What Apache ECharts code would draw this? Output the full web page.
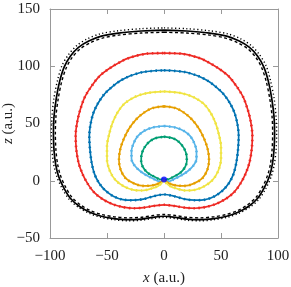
<!DOCTYPE html>
<html><head><meta charset="utf-8">
<script src="https://cdn.jsdelivr.net/npm/echarts@6/dist/echarts.min.js"></script>
<style>html,body{margin:0;padding:0;background:#fff}#c{width:291px;height:287px}</style>
</head><body><div id="c"></div>
<script>
const xTicks = [-100, -50, 0, 50, 100];
const zTicks = [-50, 0, 50, 100, 150];

const blackSolid = [[0,131.5],[20,130.8],[40,129],[55,126.3],[66,122],[75,116.5],[82,109],[87.5,99.5],[91.5,87],[94.5,72],[96.5,56],[97,41],[96.5,27],[95,14],[92.5,4],[88,-6],[82,-15.5],[74,-22.5],[65,-27.5],[55,-31],[44,-33],[32,-34],[20,-33.5],[10,-32],[0,-31],[-10,-32],[-20,-33.5],[-32,-34],[-44,-33],[-55,-31],[-65,-27.5],[-74,-22.5],[-82,-15.5],[-88,-6],[-92.5,4],[-95,14],[-96.5,27],[-97,41],[-96.5,56],[-94.5,72],[-91.5,87],[-87.5,99.5],[-82,109],[-75,116.5],[-66,122],[-55,126.3],[-40,129],[-20,130.8],[0,131.5]];
const blackOuter = [[0,133.5],[20,132.8],[40,131],[56,128.3],[67.5,123.8],[76.5,118],[83.5,110.5],[89.5,100.5],[93.3,88],[96.5,72.5],[98.3,56],[98.8,41],[98.3,27],[96.7,14],[94,3.5],[89.3,-6.8],[83,-16.5],[74.6,-23.5],[65.5,-28.5],[55.3,-32],[44,-34],[32,-35],[20,-34.5],[10,-33],[0,-32],[-10,-33],[-20,-34.5],[-32,-35],[-44,-34],[-55.3,-32],[-65.5,-28.5],[-74.6,-23.5],[-83,-16.5],[-89.3,-6.8],[-94,3.5],[-96.7,14],[-98.3,27],[-98.8,41],[-98.3,56],[-96.5,72.5],[-93.3,88],[-89.5,100.5],[-83.5,110.5],[-76.5,118],[-67.5,123.8],[-56,128.3],[-40,131],[-20,132.8],[0,133.5]];
const blackInner = [[0,129.7],[20,129],[40,127.2],[54,124.6],[64.6,120.5],[73.5,115.2],[80.5,107.8],[85.8,98.5],[89.8,86.3],[92.8,71.5],[94.8,56],[95.3,41],[94.8,27],[93.3,14.3],[90.8,4.5],[86.5,-5.2],[80.7,-14.5],[73,-21.2],[64.3,-26.2],[54.6,-29.5],[44,-31.4],[32,-32.4],[20,-31.9],[10,-30.4],[0,-29.5],[-10,-30.4],[-20,-31.9],[-32,-32.4],[-44,-31.4],[-54.6,-29.5],[-64.3,-26.2],[-73,-21.2],[-80.7,-14.5],[-86.5,-5.2],[-90.8,4.5],[-93.3,14.3],[-94.8,27],[-95.3,41],[-94.8,56],[-92.8,71.5],[-89.8,86.3],[-85.8,98.5],[-80.5,107.8],[-73.5,115.2],[-64.6,120.5],[-54,124.6],[-40,127.2],[-20,129],[0,129.7]];
const red = [[0,111.5],[15,111],[30,107.5],[38,104],[48,98],[57,91],[64,82],[69.5,73],[73.5,62],[76,52],[77.5,40],[77,28],[75,16],[71.5,6],[67,-2.5],[61.5,-10],[54,-16],[45,-20.5],[36,-23],[27,-24],[18,-23.5],[9,-22],[0,-21],[-9,-22],[-18,-23.5],[-27,-24],[-36,-23],[-45,-20.5],[-54,-16],[-61.5,-10],[-67,-2.5],[-71.5,6],[-75,16],[-77,28],[-77.5,40],[-76,52],[-73.5,62],[-69.5,73],[-64,82],[-57,91],[-48,98],[-38,104],[-30,107.5],[-15,111],[0,111.5]];
const blue = [[0,96.5],[18,95],[30,91.5],[38,87.5],[45,82.5],[52,76],[58,67.5],[62,59],[64.5,49],[65.5,39],[65,28],[63.5,16],[61,6],[57,-2],[51.5,-8.5],[44.5,-13.5],[36,-16.5],[27,-17],[18,-16],[9,-13.5],[0,-12],[-9,-13.5],[-18,-16],[-27,-17],[-36,-16.5],[-44.5,-13.5],[-51.5,-8.5],[-57,-2],[-61,6],[-63.5,16],[-65,28],[-65.5,39],[-64.5,49],[-62,59],[-58,67.5],[-52,76],[-45,82.5],[-38,87.5],[-30,91.5],[-18,95],[0,96.5]];
const yellow = [[0,78],[15,76.5],[26,73],[34.5,67.5],[40.5,60],[45,51],[48,41],[50,30],[50,19],[47.5,8.5],[42.5,0.5],[35,-5],[27,-8],[19,-8.5],[11,-6.8],[5,-4.5],[1.5,-1.5],[0,0.9],[-1.5,-1.5],[-5,-4.5],[-11,-6.8],[-19,-8.5],[-27,-8],[-35,-5],[-42.5,0.5],[-47.5,8.5],[-50,19],[-50,30],[-48,41],[-45,51],[-40.5,60],[-34.5,67.5],[-26,73],[-15,76.5],[0,78]];
const orange = [[0,65],[10,63.5],[17.5,59.5],[25,53],[31,45],[35.5,36],[38.5,27],[39.5,18],[38,9.5],[33.5,2],[26,-2.5],[18,-4.5],[10,-4],[5,-2.5],[1.5,-0.5],[0,0.9],[-1.5,-0.5],[-5,-2.5],[-10,-4],[-18,-4.5],[-26,-2.5],[-33.5,2],[-38,9.5],[-39.5,18],[-38.5,27],[-35.5,36],[-31,45],[-25,53],[-17.5,59.5],[-10,63.5],[0,65]];
const lightBlue = [[0,47.8],[10,46.5],[17.5,43.5],[23,39],[26.5,33],[28.5,26],[28.5,19],[26,13.5],[21,8.5],[15,4.5],[9,1.5],[4.5,-0.5],[1.5,-0.2],[0,0.9],[-1.5,-0.2],[-4.5,-0.5],[-9,1.5],[-15,4.5],[-21,8.5],[-26,13.5],[-28.5,19],[-28.5,26],[-26.5,33],[-23,39],[-17.5,43.5],[-10,46.5],[0,47.8]];
const green = [[0,38.5],[8,37],[13,34],[17.5,28.5],[19.8,22],[20,17],[18.5,12],[15,7.5],[10.5,4.5],[5.5,2],[2,1],[0,0.9],[-2,1],[-5.5,2],[-10.5,4.5],[-15,7.5],[-18.5,12],[-20,17],[-19.8,22],[-17.5,28.5],[-13,34],[-8,37],[0,38.5]];
const sourcePoint = [[0, 1]];

const curves = [
  {data: green, color: '#009E73'},
  {data: lightBlue, color: '#56B4E9'},
  {data: orange, color: '#E69F00'},
  {data: yellow, color: '#F0E442'},
  {data: blue, color: '#0072B2'},
  {data: red, color: '#EE2A24'}
];

const minus = v => String(v).replace('-', '\u2212');
const frame = '#999999';
const font = 'Liberation Serif';

const series = [];
curves.forEach(c => {
  series.push({type: 'line', data: c.data, smooth: 0.3, showSymbol: false, silent: true,
    lineStyle: {color: c.color, width: 1.7}});
  series.push({type: 'line', data: c.data, smooth: 0.3, showSymbol: false, silent: true,
    lineStyle: {color: c.color, width: 2.6, type: [1.5, 3.5]}});
});
series.push({type: 'line', data: blackSolid, smooth: 0.3, showSymbol: false, silent: true,
  lineStyle: {color: '#000', width: 1.7}});
series.push({type: 'line', data: blackInner, smooth: 0.3, showSymbol: false, silent: true,
  lineStyle: {color: '#000', width: 1.4, type: [3, 2.5]}});
series.push({type: 'line', data: blackOuter, smooth: 0.3, showSymbol: false, silent: true,
  lineStyle: {color: '#000', width: 1.4, type: [1.2, 2.5]}});
series.push({type: 'scatter', data: sourcePoint, symbol: 'circle', symbolSize: 6, silent: true,
  itemStyle: {color: '#0000FF'}, z: 5});

const axisBase = {
  axisLine: {show: true, onZero: false, lineStyle: {color: frame, width: 1}},
  axisTick: {show: true, inside: true, length: 5, lineStyle: {color: frame}},
  splitLine: {show: false}
};

const chart = echarts.init(document.getElementById('c'), null, {renderer: 'canvas'});
chart.setOption({
  animation: false,
  backgroundColor: '#fff',
  grid: {left: 50, right: 13, top: 9, bottom: 49, containLabel: false, outerBoundsMode: 'none'},
  xAxis: [
    Object.assign({}, axisBase, {type: 'value', position: 'bottom', min: xTicks[0], max: xTicks[xTicks.length-1], interval: 50,
      name: '{i|x} (a.u.)', nameLocation: 'middle', nameGap: 33, nameMoveOverlap: false,
      nameTextStyle: {fontFamily: font, fontSize: 15, color: '#222', rich: {i: {fontFamily: font, fontStyle: 'italic', fontSize: 15, color: '#222'}}},
      axisLabel: {fontFamily: font, fontSize: 15, color: '#222', margin: 11, formatter: minus}}),
    Object.assign({}, axisBase, {type: 'value', position: 'top', min: xTicks[0], max: xTicks[xTicks.length-1], interval: 50,
      axisLabel: {show: false}})
  ],
  yAxis: [
    Object.assign({}, axisBase, {type: 'value', position: 'left', min: zTicks[0], max: zTicks[zTicks.length-1], interval: 50,
      name: '{i|z} (a.u.)', nameLocation: 'middle', nameGap: 34, nameMoveOverlap: false,
      nameTextStyle: {fontFamily: font, fontSize: 15, color: '#222', rich: {i: {fontFamily: font, fontStyle: 'italic', fontSize: 15, color: '#222'}}},
      axisLabel: {fontFamily: font, fontSize: 15, color: '#222', margin: 10, formatter: minus}}),
    Object.assign({}, axisBase, {type: 'value', position: 'right', min: zTicks[0], max: zTicks[zTicks.length-1], interval: 50,
      axisLabel: {show: false}})
  ],
  series: series
});
</script>
</body></html>
